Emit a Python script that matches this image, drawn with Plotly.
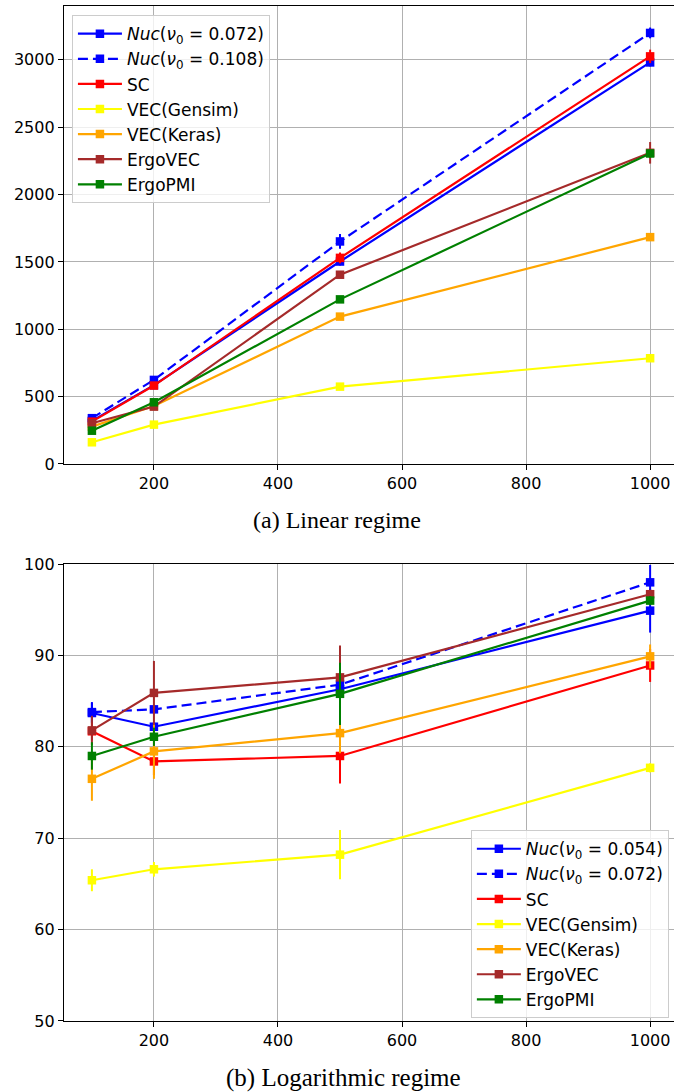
import plotly.graph_objects as go

# ---- data ----
x_vals = [100, 200, 500, 1000]

names_lin = ["<i>Nuc</i>(<i>ν</i><sub>0</sub> = 0.072)", "<i>Nuc</i>(<i>ν</i><sub>0</sub> = 0.108)",
             "SC", "VEC(Gensim)", "VEC(Keras)", "ErgoVEC", "ErgoPMI"]
names_log = ["<i>Nuc</i>(<i>ν</i><sub>0</sub> = 0.054)", "<i>Nuc</i>(<i>ν</i><sub>0</sub> = 0.072)",
             "SC", "VEC(Gensim)", "VEC(Keras)", "ErgoVEC", "ErgoPMI"]

lin_nuc1 = [320, 585, 1503, 2981]
lin_nuc2 = [340, 624, 1652, 3200]
lin_sc = [314, 582, 1530, 3026]
lin_gensim = [161, 292, 574, 785]
lin_keras = [277, 430, 1094, 1684]
lin_ergovec = [302, 426, 1405, 2310]
lin_ergopmi = [247, 458, 1222, 2305]

lin_nuc1_err = [15, 20, 30, 30]
lin_nuc2_err = [15, 20, 55, 40]
lin_sc_err = [15, 20, 40, 50]
lin_gensim_err = [10, 10, 15, 20]
lin_keras_err = [10, 10, 15, 20]
lin_ergovec_err = [15, 15, 20, 80]
lin_ergopmi_err = [15, 15, 20, 30]

log_nuc1 = [83.7, 82.2, 86.3, 94.9]
log_nuc2 = [83.8, 84.1, 86.8, 98.0]
log_sc = [81.7, 78.4, 79.0, 88.9]
log_gensim = [65.4, 66.6, 68.2, 77.7]
log_keras = [76.5, 79.5, 81.5, 89.9]
log_ergovec = [81.8, 85.9, 87.6, 96.7]
log_ergopmi = [79.0, 81.1, 85.8, 96.0]

log_nuc1_err = [1.1, 0.5, 1.0, 2.4]
log_nuc2_err = [1.1, 0.5, 3.5, 1.9]
log_sc_err = [1.0, 1.5, 3.0, 1.8]
log_gensim_err = [1.2, 0.8, 2.7, 0.5]
log_keras_err = [2.4, 3.0, 2.2, 1.3]
log_ergovec_err = [1.6, 3.5, 3.5, 0.5]
log_ergopmi_err = [1.5, 1.0, 3.4, 0.5]

colors = ["#0000ff", "#0000ff", "#ff0000", "#ffff00", "#ffa500", "#a52a2a", "#008000"]
dashes = ["solid", "10px,5px", "solid", "solid", "solid", "solid", "solid"]

lin_series = [lin_nuc1, lin_nuc2, lin_sc, lin_gensim, lin_keras, lin_ergovec, lin_ergopmi]
lin_errs = [lin_nuc1_err, lin_nuc2_err, lin_sc_err, lin_gensim_err, lin_keras_err, lin_ergovec_err, lin_ergopmi_err]
log_series = [log_nuc1, log_nuc2, log_sc, log_gensim, log_keras, log_ergovec, log_ergopmi]
log_errs = [log_nuc1_err, log_nuc2_err, log_sc_err, log_gensim_err, log_keras_err, log_ergovec_err, log_ergopmi_err]

fig = go.Figure()

for i in range(7):
    fig.add_trace(go.Scatter(
        x=x_vals, y=lin_series[i], name=names_lin[i], mode="lines+markers",
        line=dict(color=colors[i], width=2.2, dash=dashes[i]),
        marker=dict(symbol="square", size=8.5, color=colors[i]),
        error_y=dict(type="data", array=lin_errs[i], color=colors[i], thickness=2, width=0),
        xaxis="x", yaxis="y", legend="legend"))

for i in range(7):
    fig.add_trace(go.Scatter(
        x=x_vals, y=log_series[i], name=names_log[i], mode="lines+markers",
        line=dict(color=colors[i], width=2.2, dash=dashes[i]),
        marker=dict(symbol="square", size=8.5, color=colors[i]),
        error_y=dict(type="data", array=log_errs[i], color=colors[i], thickness=2, width=0),
        xaxis="x2", yaxis="y2", legend="legend2"))

tickfont = dict(family="DejaVu Sans", size=16, color="black")
axis_common = dict(showgrid=True, gridcolor="#b0b0b0", gridwidth=1.2,
                   showline=True, linecolor="black", linewidth=1.3,
                   ticks="outside", ticklen=5, tickwidth=1.3, tickcolor="black",
                   tickfont=tickfont, zeroline=False, automargin=False)

legend_common = dict(font=dict(family="DejaVu Sans", size=17, color="black"),
                     bgcolor="rgba(255,255,255,0.8)", bordercolor="#cccccc", borderwidth=1,
                     itemwidth=44, xanchor="left", yanchor="top", tracegroupgap=0)

fig.update_layout(
    width=674, height=1092,
    margin=dict(l=64, r=0, t=6, b=71, autoexpand=False),
    paper_bgcolor="white", plot_bgcolor="white",
    xaxis=dict(domain=[0, 1], range=[55, 1038.5], anchor="y", mirror=True,
               tickvals=[200, 400, 600, 800, 1000], **axis_common),
    yaxis=dict(domain=[0.5488, 1.0], range=[0, 3400], anchor="x",
               tickvals=[0, 500, 1000, 1500, 2000, 2500, 3000], **axis_common),
    xaxis2=dict(domain=[0, 1], range=[55, 1038.5], anchor="y2", mirror=True,
                tickvals=[200, 400, 600, 800, 1000], **axis_common),
    yaxis2=dict(domain=[0, 0.4502], range=[50, 100], anchor="x2",
                tickvals=[50, 60, 70, 80, 90, 100], **axis_common),
    legend=dict(x=0.013, y=0.991, **legend_common),
    legend2=dict(x=0.667, y=0.188, **legend_common),
    annotations=[
        dict(text="(a) Linear regime", x=0.4475, y=0.4936, xref="paper", yref="paper",
             showarrow=False, xanchor="center", yanchor="middle",
             font=dict(family="Liberation Serif", size=24, color="black")),
        dict(text="(b) Logarithmic regime", x=0.458, y=-0.056, xref="paper", yref="paper",
             showarrow=False, xanchor="center", yanchor="middle",
             font=dict(family="Liberation Serif", size=25, color="black")),
    ],
)

fig.write_html("out.html", config={"displayModeBar": False})

# remove default page margin so the figure sits at the window's top-left corner
with open("out.html", "r", encoding="utf-8") as f:
    html = f.read()
html = html.replace("<head>", "<head><style>html,body{margin:0;padding:0;overflow:hidden;}</style>", 1)
with open("out.html", "w", encoding="utf-8") as f:
    f.write(html)
